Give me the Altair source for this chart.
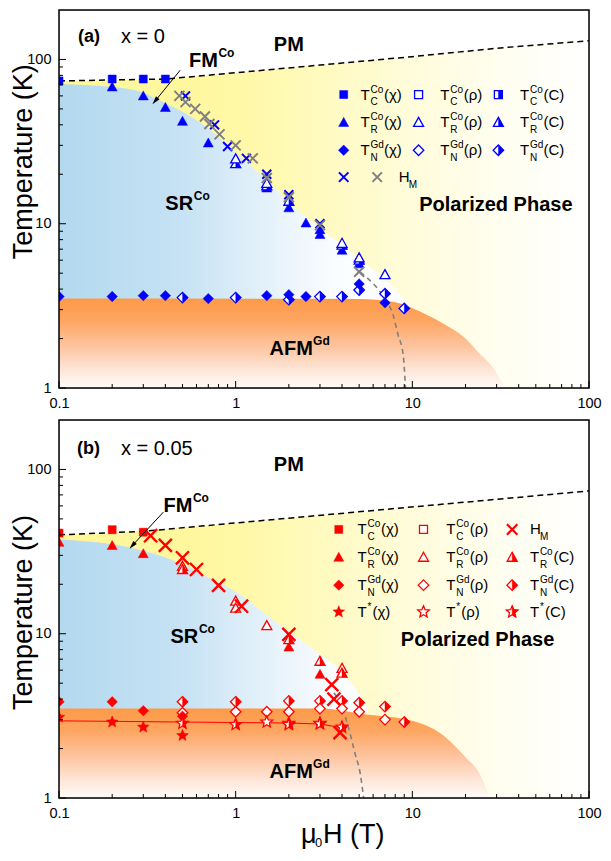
import math
import altair as alt
import pandas as pd

F = "Liberation Sans"
W, H = 530, 378
XS, YS = W / 538.0, H / 380.0
XD = [0.1, 100]
YD = [1, 200]
BLUE, RED, GRAY = "#0000ff", "#ff0000", "#808080"

# ---------------- panel (a): x = 0 ----------------
a_TC_chi_x = [0.1, 0.2, 0.3, 0.4]
a_TC_chi_y = [74, 76, 76, 76]
a_TR_chi_x = [0.2, 0.3, 0.4, 0.5, 0.7, 1.5, 2.0, 2.5, 3.0, 3.0, 4.0, 5.0]
a_TR_chi_y = [68, 60, 51, 42, 31, 16.5, 12.5, 10.1, 9.2, 8.6, 6.9, 5.7]
a_TR_rho_x = [1.0, 1.5, 4.0, 5.0, 7.0]
a_TR_rho_y = [24.8, 17.6, 7.6, 6.2, 4.9]
a_TR_C_x = [1.0, 1.5, 2.0, 4.0, 5.0]
a_TR_C_y = [23.2, 17.0, 13.7, 7.4, 6.0]
a_TN_chi_x = [0.1, 0.2, 0.3, 0.4, 0.7, 1.5, 2.0, 2.5, 5.0, 7.0]
a_TN_chi_y = [3.6, 3.6, 3.65, 3.65, 3.5, 3.65, 3.7, 3.6, 4.3, 3.3]
a_TN_C_x = [0.5, 1.0, 2.0, 3.0, 4.0, 5.0, 7.0, 9.0]
a_TN_C_y = [3.55, 3.55, 3.45, 3.6, 3.6, 3.95, 3.75, 3.05]
a_HM_blue_x = [0.52, 0.76, 0.9, 1.15, 1.5, 2.0, 3.0]
a_HM_blue_y = [60, 40, 29.5, 25, 20, 15, 10]
a_HM_gray_x = [0.48, 0.52, 0.59, 0.67, 0.71, 0.81, 1.0, 1.25, 1.5, 2.0, 3.0, 5.0]
a_HM_gray_y = [60, 55, 50, 45, 40.5, 35, 30, 25, 19, 14.5, 9.8, 5.1]
a_pm_x = [0.1, 0.4, 1, 3, 10, 30, 100]
a_pm_y = [74, 76, 83, 92.4, 104, 117, 130]
a_sr_x = [0.1, 0.2, 0.3, 0.35, 0.5, 0.7, 1.0, 1.5, 2, 3, 5, 7, 9]
a_sr_y = [71, 68, 63, 58, 48, 38, 27, 18.5, 13.5, 9.4, 6.1, 4.6, 3.5]
a_afm_x = [0.1, 5, 7.9, 11.2, 15, 20, 24, 28.6, 31.5, 34]
a_afm_y = [3.5, 3.48, 3.34, 2.9, 2.46, 2.0, 1.62, 1.33, 1.13, 1.0]
a_hm_ext_x = [5.07, 6.14, 7.0, 7.78, 8.31, 8.87, 9.15]
a_hm_ext_y = [5.07, 4.21, 3.5, 2.78, 2.1, 1.6, 1.0]

# ---------------- panel (b): x = 0.05 ----------------
b_TC_chi_x = [0.1, 0.2, 0.3]
b_TC_chi_y = [41, 43, 41.5]
b_TR_chi_x = [0.1, 0.2, 0.3, 2.0, 3.0]
b_TR_chi_y = [36, 34.4, 30.7, 8.3, 5.66]
b_TR_rho_x = [0.5, 1.0, 1.0, 1.5, 4.0]
b_TR_rho_y = [25.7, 15.8, 14.3, 11.2, 6.15]
b_TR_C_x = [0.5, 2.0, 3.0, 4.0]
b_TR_C_y = [24.6, 9.2, 6.8, 5.75]
b_TN_chi_x = [0.1, 0.2, 0.3, 0.5]
b_TN_chi_y = [3.85, 3.85, 3.4, 3.15]
b_TN_rho_x = [0.5, 1.0, 1.5, 2.0, 3.0, 4.0, 5.0, 7.0]
b_TN_rho_y = [3.3, 3.35, 3.35, 3.35, 3.5, 3.5, 3.35, 3.0]
b_TN_C_x = [0.5, 1.0, 2.0, 3.0, 4.0, 5.0, 7.0, 9.0]
b_TN_C_y = [3.85, 3.85, 3.9, 3.9, 3.9, 3.8, 3.6, 2.9]
b_Ts_chi_x = [0.1, 0.2, 0.3, 0.5]
b_Ts_chi_y = [3.1, 2.9, 2.7, 2.4]
b_Ts_rho_x = [1.5, 2.0, 3.0]
b_Ts_rho_y = [2.9, 2.85, 2.85]
b_Ts_C_x = [0.5, 1.0, 2.0, 3.0, 4.0]
b_Ts_C_y = [2.85, 2.8, 2.8, 2.83, 2.7]
b_HM_x = [0.33, 0.4, 0.5, 0.6, 0.8, 1.08, 2.0, 3.5, 3.6, 3.9]
b_HM_y = [39.5, 34.5, 29, 24.6, 19.7, 14.7, 9.9, 4.9, 4.0, 2.5]
b_pm_x = [0.1, 0.3, 100]
b_pm_y = [40, 42, 74]
b_sr_x = [0.1, 0.2, 0.3, 0.5, 0.7, 1, 1.5, 2, 3, 4, 5, 5.6]
b_sr_y = [37.5, 35, 32, 26.5, 22, 18, 13, 10.3, 7.5, 5.9, 4.3, 3.5]
b_afm_x = [0.1, 3, 5.2, 10, 15, 20, 24, 27.5]
b_afm_y = [3.5, 3.5, 3.25, 2.95, 2.4, 1.77, 1.41, 1.0]
b_hm_ext_x = [3.6, 4.0, 4.35, 4.74, 5.07, 5.3]
b_hm_ext_y = [4.37, 3.55, 2.69, 1.86, 1.41, 1.0]
b_tstar_x = [0.1, 1, 2, 3, 4]
b_tstar_y = [2.95, 2.88, 2.86, 2.82, 2.68]

# annotation anchors (data coordinates)
a_labels = {"PM": (2.0, 123), "FM": (0.544, 98), "SR": (0.40, 13.2),
            "AFM": (1.556, 1.72), "POL": (29.7, 13)}
b_labels = {"PM": (2.0, 106), "FM": (0.39, 59.8), "SR": (0.427, 9.6),
            "AFM": (1.556, 1.43), "POL": (23.4, 9.2)}
a_arrow_x, a_arrow_y = [0.485, 0.35], [85.9, 55.8]
b_arrow_x, b_arrow_y = [0.39, 0.26], [55.0, 34.4]

y_major = [1, 10, 100]
y_minor = [2, 3, 4, 5, 6, 7, 8, 9, 20, 30, 40, 50, 60, 70, 80, 90]
x_major = [0.1, 1, 10, 100]
x_minor = [0.2, 0.3, 0.4, 0.5, 0.6, 0.7, 0.8, 0.9, 2, 3, 4, 5, 6, 7, 8, 9,
           20, 30, 40, 50, 60, 70, 80, 90]

# ---------------- symbol shapes ----------------
def _star(r_in=0.45):
    p = []
    for k in range(10):
        ang = math.radians(-90 + 36 * k)
        r = 1.0 if k % 2 == 0 else r_in
        p.append((r * math.cos(ang), r * math.sin(ang)))
    return p

_sp = _star()
STAR = "M" + "L".join(f"{x:.3f},{y:.3f}" for x, y in _sp) + "Z"
STAR_HALF = "M" + "L".join(f"{x:.3f},{y:.3f}" for x, y in _sp[0:6]) + "Z"
SHAPES = {
    "square": ("M-1,-1H1V1H-1Z", "M0,-1H1V1H0Z", 64),
    "tri": ("M0,-1L1,0.8L-1,0.8Z", "M0,-1L1,0.8L0,0.8Z", 100),
    "diamond": ("M0,-1L1,0L0,1L-1,0Z", "M0,-1L1,0L0,1Z", 110),
    "star": (STAR, STAR_HALF, 150),
}
XPATH = "M-1,-1L1,1M-1,1L1,-1"


def sym(xs, ys, kind, mode, color, xsize=100, xsw=2.0):
    rows = []
    if kind == "x":
        for x, y in zip(xs, ys):
            rows.append((x, y, XPATH, "transparent", color, xsize, xsw))
        return rows
    full, half, size = SHAPES[kind]
    for x, y in zip(xs, ys):
        if mode == "filled":
            rows.append((x, y, full, color, color, size, 0.5))
        elif mode == "open":
            rows.append((x, y, full, "white", color, size, 1.3))
        else:
            rows.append((x, y, full, "white", color, size, 1.3))
            rows.append((x, y, half, color, color, size, 0.3))
    return rows


def symdf(rows):
    return pd.DataFrame(rows, columns=["x", "y", "shape", "fill", "stroke", "size", "sw"])


def logoff(x, x0, x1):
    return max(0.0, min(1.0, math.log(x / x0) / math.log(x1 / x0)))


def hgrad(sx, cols, x0, x1):
    stops = []
    last = -1
    for x, c in zip(sx, cols):
        o = logoff(x, x0, x1)
        if o > last:
            stops.append(alt.GradientStop(color=c, offset=o))
            last = o
    return alt.Gradient(gradient="linear", x1=0, x2=1, y1=0, y2=0, stops=stops)


def encs(title_y):
    X = alt.X("x:Q", scale=alt.Scale(type="log", domain=XD, nice=False),
              axis=alt.Axis(values=x_major, format="~g", ticks=False, domain=False, grid=False,
                            labelFont=F, labelFontSize=14.5, labelPadding=8, labelColor="black",
                            labelFlush=False, labelOverlap=False, title=None))
    Y = alt.Y("y:Q", scale=alt.Scale(type="log", domain=YD, nice=False),
              axis=alt.Axis(values=y_major, format="~g", ticks=False, domain=False, grid=False,
                            labelFont=F, labelFontSize=14.5, labelPadding=8, labelColor="black",
                            labelFlush=False, labelOverlap=False,
                            title="Temperature (K)", titleFont=F, titleFontSize=27,
                            titleFontWeight="normal", titleColor="black", titleX=-22,
                            titleY=title_y, titleBaseline="bottom", titleAngle=270))
    return X, Y


ONE = pd.DataFrame({"a": [0]})


def vtext(x, y, t, size, weight="normal", align="left"):
    return alt.Chart(ONE).mark_text(text=t, fontSize=size, fontWeight=weight, font=F,
                                    color="black", align=align, baseline="middle").encode(
        x=alt.value(x), y=alt.value(y))


def rich(X, Y, pos, parts, align="left"):
    d = pd.DataFrame({"x": [pos[0]], "y": [pos[1]]})
    out = []
    for t, s, dx, dy in parts:
        out.append(alt.Chart(d).mark_text(text=t, fontSize=s, fontWeight="bold", font=F,
                                          color="black", align=align, baseline="middle",
                                          dx=dx, dy=dy).encode(x=X, y=Y))
    return out


def legend_layers(sym_rows, txt_rows):
    sd = symdf(sym_rows).rename(columns={"x": "px", "y": "py"})
    L = [alt.Chart(sd).mark_point(opacity=1).encode(
        x=alt.X("px:Q", scale=None), y=alt.Y("py:Q", scale=None),
        shape=alt.Shape("shape:N", scale=None), fill=alt.Fill("fill:N", scale=None),
        stroke=alt.Stroke("stroke:N", scale=None), size=alt.Size("size:Q", scale=None),
        strokeWidth=alt.StrokeWidth("sw:Q", scale=None))]
    td = pd.DataFrame(txt_rows, columns=["tx", "ty", "main", "sup", "sub", "suf"])
    td["sx"] = td["tx"] + 10
    td["fx"] = td["tx"] + 10 + td["sup"].apply(lambda s: 13.5 if len(s) > 1 else 5.0)
    td["supy"] = td["ty"] - 5
    td["suby"] = td["ty"] + 7.5
    for fx, fy, ft, fs in [("tx", "ty", "main", 15), ("sx", "supy", "sup", 10),
                           ("sx", "suby", "sub", 10), ("fx", "ty", "suf", 15)]:
        L.append(alt.Chart(td).mark_text(align="left", baseline="middle", font=F,
                                         fontSize=fs, color="black").encode(
            x=alt.X(f"{fx}:Q", scale=None), y=alt.Y(f"{fy}:Q", scale=None),
            text=alt.Text(f"{ft}:N")))
    return L


def panel(title_y, pm_x, pm_y, sr_x, sr_y, afm_x, afm_y, ext_x, ext_y, pts,
          labels, arrow_x, arrow_y, arrow_angle, leg_sym, leg_txt, extra=None):
    X, Y = encs(title_y)
    L = []
    yel = pd.DataFrame({"x": pm_x, "y": pm_y, "y2": 1.0})
    L.append(alt.Chart(yel).mark_area(
        color=hgrad([0.1, 0.5, 1, 3, 10, 30, 100],
                    ["#fff799", "#fff79e", "#fff8a6", "#fffabf", "#fffcdb", "#fffeef", "#ffffff"],
                    0.1, 100), clip=True).encode(x=X, y=Y, y2="y2:Q"))
    blu = pd.DataFrame({"x": sr_x, "y": sr_y, "y2": 3.3})
    L.append(alt.Chart(blu).mark_area(
        color=hgrad([0.1, 0.5, 1, 2, 3.5, 100],
                    ["#b3d9ef", "#c6e2f4", "#d9ecf8", "#ecf5fc", "#f9fcfe", "#ffffff"],
                    0.1, max(sr_x)), interpolate="monotone", clip=True).encode(x=X, y=Y, y2="y2:Q"))
    org = pd.DataFrame({"x": afm_x, "y": afm_y, "y2": 1.0})
    L.append(alt.Chart(org).mark_area(
        color=alt.Gradient(gradient="linear", x1=0, x2=0, y1=0, y2=1, stops=[
            alt.GradientStop(color="#fd9a48", offset=0),
            alt.GradientStop(color="#fda662", offset=0.25),
            alt.GradientStop(color="#fdc6a2", offset=0.55),
            alt.GradientStop(color="#fee6d8", offset=0.8),
            alt.GradientStop(color="#fffbf9", offset=1)]),
        interpolate="monotone", clip=True).encode(x=X, y=Y, y2="y2:Q"))
    L.append(alt.Chart(pd.DataFrame({"x": pm_x, "y": pm_y})).mark_line(
        color="black", strokeWidth=1.5, strokeDash=[6, 4], clip=True).encode(x=X, y=Y))
    L.append(alt.Chart(pd.DataFrame({"x": ext_x, "y": ext_y})).mark_line(
        color=GRAY, strokeWidth=1.6, strokeDash=[5, 4], interpolate="monotone", clip=True).encode(x=X, y=Y))
    if extra is not None:
        L.append(alt.Chart(pd.DataFrame({"x": extra[0], "y": extra[1]})).mark_line(
            color=RED, strokeWidth=1, clip=True).encode(x=X, y=Y))
    L.append(alt.Chart(symdf(pts)).mark_point(opacity=1, clip=True).encode(
        x=X, y=Y,
        shape=alt.Shape("shape:N", scale=None), fill=alt.Fill("fill:N", scale=None),
        stroke=alt.Stroke("stroke:N", scale=None), size=alt.Size("size:Q", scale=None),
        strokeWidth=alt.StrokeWidth("sw:Q", scale=None)))
    L.append(alt.Chart(pd.DataFrame({"x": arrow_x, "y": arrow_y})).mark_line(
        color="black", strokeWidth=1).encode(x=X, y=Y))
    L.append(alt.Chart(pd.DataFrame({"x": arrow_x[1:], "y": arrow_y[1:]})).mark_point(
        shape="M0,-1L0.55,1L-0.55,1Z", size=70, filled=True, color="black", opacity=1,
        angle=arrow_angle).encode(x=X, y=Y))
    L += rich(X, Y, labels["PM"], [("PM", 20, 0, 0)], align="center")
    L += rich(X, Y, labels["FM"], [("FM", 20, 0, 0), ("Co", 12, 29.5, -8)])
    L += rich(X, Y, labels["SR"], [("SR", 20, 0, 0), ("Co", 12, 28.5, -8)])
    L += rich(X, Y, labels["AFM"], [("AFM", 20, 0, 0), ("Gd", 12, 43.5, -8)])
    L += rich(X, Y, labels["POL"], [("Polarized Phase", 20, 0, 0)], align="center")
    L += legend_layers(leg_sym, leg_txt)
    L.append(alt.Chart(pd.DataFrame({"y": y_major})).mark_rule(color="black", strokeWidth=1).encode(
        y=Y, x=alt.value(0), x2=alt.value(7)))
    L.append(alt.Chart(pd.DataFrame({"y": y_minor})).mark_rule(color="black", strokeWidth=1).encode(
        y=Y, x=alt.value(0), x2=alt.value(4)))
    L.append(alt.Chart(pd.DataFrame({"x": x_major})).mark_rule(color="black", strokeWidth=1).encode(
        x=X, y=alt.value(H), y2=alt.value(H - 7)))
    L.append(alt.Chart(pd.DataFrame({"x": x_minor})).mark_rule(color="black", strokeWidth=1).encode(
        x=X, y=alt.value(H), y2=alt.value(H - 4)))
    L.append(alt.Chart(ONE).mark_rect(fillOpacity=0, stroke="black", strokeWidth=1.5).encode(
        x=alt.value(0), x2=alt.value(W), y=alt.value(0), y2=alt.value(H)))
    return L


pts_a = []
pts_a += sym(a_TN_C_x, a_TN_C_y, "diamond", "half", BLUE)
pts_a += sym(a_TN_chi_x, a_TN_chi_y, "diamond", "filled", BLUE)
pts_a += sym(a_TR_chi_x, a_TR_chi_y, "tri", "filled", BLUE)
pts_a += sym(a_TR_C_x, a_TR_C_y, "tri", "half", BLUE)
pts_a += sym(a_TR_rho_x, a_TR_rho_y, "tri", "open", BLUE)
pts_a += sym(a_TC_chi_x, a_TC_chi_y, "square", "filled", BLUE)
pts_a += sym(a_HM_blue_x, a_HM_blue_y, "x", None, BLUE, 80, 2.0)
pts_a += sym(a_HM_gray_x, a_HM_gray_y, "x", None, GRAY, 100, 2.0)

rows_a = [85 * YS, 113 * YS, 141 * YS, 168 * YS]
cols_a = [289 * XS, 365 * XS, 446 * XS]
tcols_a = [306 * XS, 387 * XS, 468 * XS]
kinds = ["square", "tri", "diamond", "star"]
modes = ["filled", "open", "half"]
sups = ["Co", "Co", "Gd", "*"]
subs = ["C", "R", "N", ""]
sufs = ["(χ)", "(ρ)", "(C)"]
leg_sym_a, leg_txt_a = [], []
for r in range(3):
    for c in range(3):
        leg_sym_a += sym([cols_a[c]], [rows_a[r]], kinds[r], modes[c], BLUE)
        leg_txt_a.append((tcols_a[c], rows_a[r], "T", sups[r], subs[r], sufs[c]))
leg_sym_a += sym([cols_a[0]], [rows_a[3]], "x", None, BLUE, 90, 2.0)
leg_sym_a += sym([323 * XS], [rows_a[3]], "x", None, GRAY, 90, 2.0)
leg_txt_a.append((345 * XS, rows_a[3], "H", "", "M", ""))

pts_b = []
pts_b += sym(b_TN_C_x, b_TN_C_y, "diamond", "half", RED)
pts_b += sym(b_TN_rho_x, b_TN_rho_y, "diamond", "open", RED)
pts_b += sym(b_TN_chi_x, b_TN_chi_y, "diamond", "filled", RED)
pts_b += sym(b_Ts_chi_x, b_Ts_chi_y, "star", "filled", RED)
pts_b += sym(b_Ts_rho_x, b_Ts_rho_y, "star", "open", RED)
pts_b += sym(b_Ts_C_x, b_Ts_C_y, "star", "half", RED)
pts_b += sym(b_TR_chi_x, b_TR_chi_y, "tri", "filled", RED)
pts_b += sym(b_TR_rho_x, b_TR_rho_y, "tri", "open", RED)
pts_b += sym(b_TR_C_x, b_TR_C_y, "tri", "half", RED)
pts_b += sym(b_TC_chi_x, b_TC_chi_y, "square", "filled", RED)
pts_b += sym(b_HM_x, b_HM_y, "x", None, RED, 170, 2.4)

rows_b = [110 * YS, 138 * YS, 166 * YS, 193 * YS]
cols_b = [284 * XS, 370 * XS, 460 * XS]
tcols_b = [303 * XS, 393 * XS, 478 * XS]
leg_sym_b, leg_txt_b = [], []
for r in range(4):
    for c in range(3):
        if r == 0 and c == 2:
            leg_sym_b += sym([cols_b[c]], [rows_b[r]], "x", None, RED, 110, 2.2)
            leg_txt_b.append((tcols_b[c], rows_b[r], "H", "", "M", ""))
            continue
        leg_sym_b += sym([cols_b[c]], [rows_b[r]], kinds[r], modes[c], RED)
        leg_txt_b.append((tcols_b[c], rows_b[r], "T", sups[r], subs[r], sufs[c]))

La = panel(152 * YS, a_pm_x, a_pm_y, a_sr_x, a_sr_y, a_afm_x, a_afm_y, a_hm_ext_x, a_hm_ext_y,
           pts_a, a_labels, a_arrow_x, a_arrow_y, 219, leg_sym_a, leg_txt_a)
La += [vtext(19, 27, "(a)", 18, "bold"), vtext(62, 27, "x = 0", 20)]

Lb = panel(193 * YS, b_pm_x, b_pm_y, b_sr_x, b_sr_y, b_afm_x, b_afm_y, b_hm_ext_x, b_hm_ext_y,
           pts_b, b_labels, b_arrow_x, b_arrow_y, 222, leg_sym_b, leg_txt_b,
           extra=(b_tstar_x, b_tstar_y))
Lb += [vtext(18, 29, "(b)", 18, "bold"), vtext(62, 29, "x = 0.05", 20)]
Lb += [vtext(242, H + 37, "μ", 27), vtext(256, H + 45, "0", 13), vtext(264, H + 37, "H (T)", 27)]

pa = alt.layer(*La).properties(width=W, height=H)
pb = alt.layer(*Lb).properties(width=W, height=H)

chart = alt.vconcat(pa, pb, spacing=8).properties(
    padding={"left": 0, "top": 0, "right": 0, "bottom": 0}
).configure_view(stroke=None).configure(background="white")

chart.save("out.html", embed_options={"renderer": "svg", "actions": False})
